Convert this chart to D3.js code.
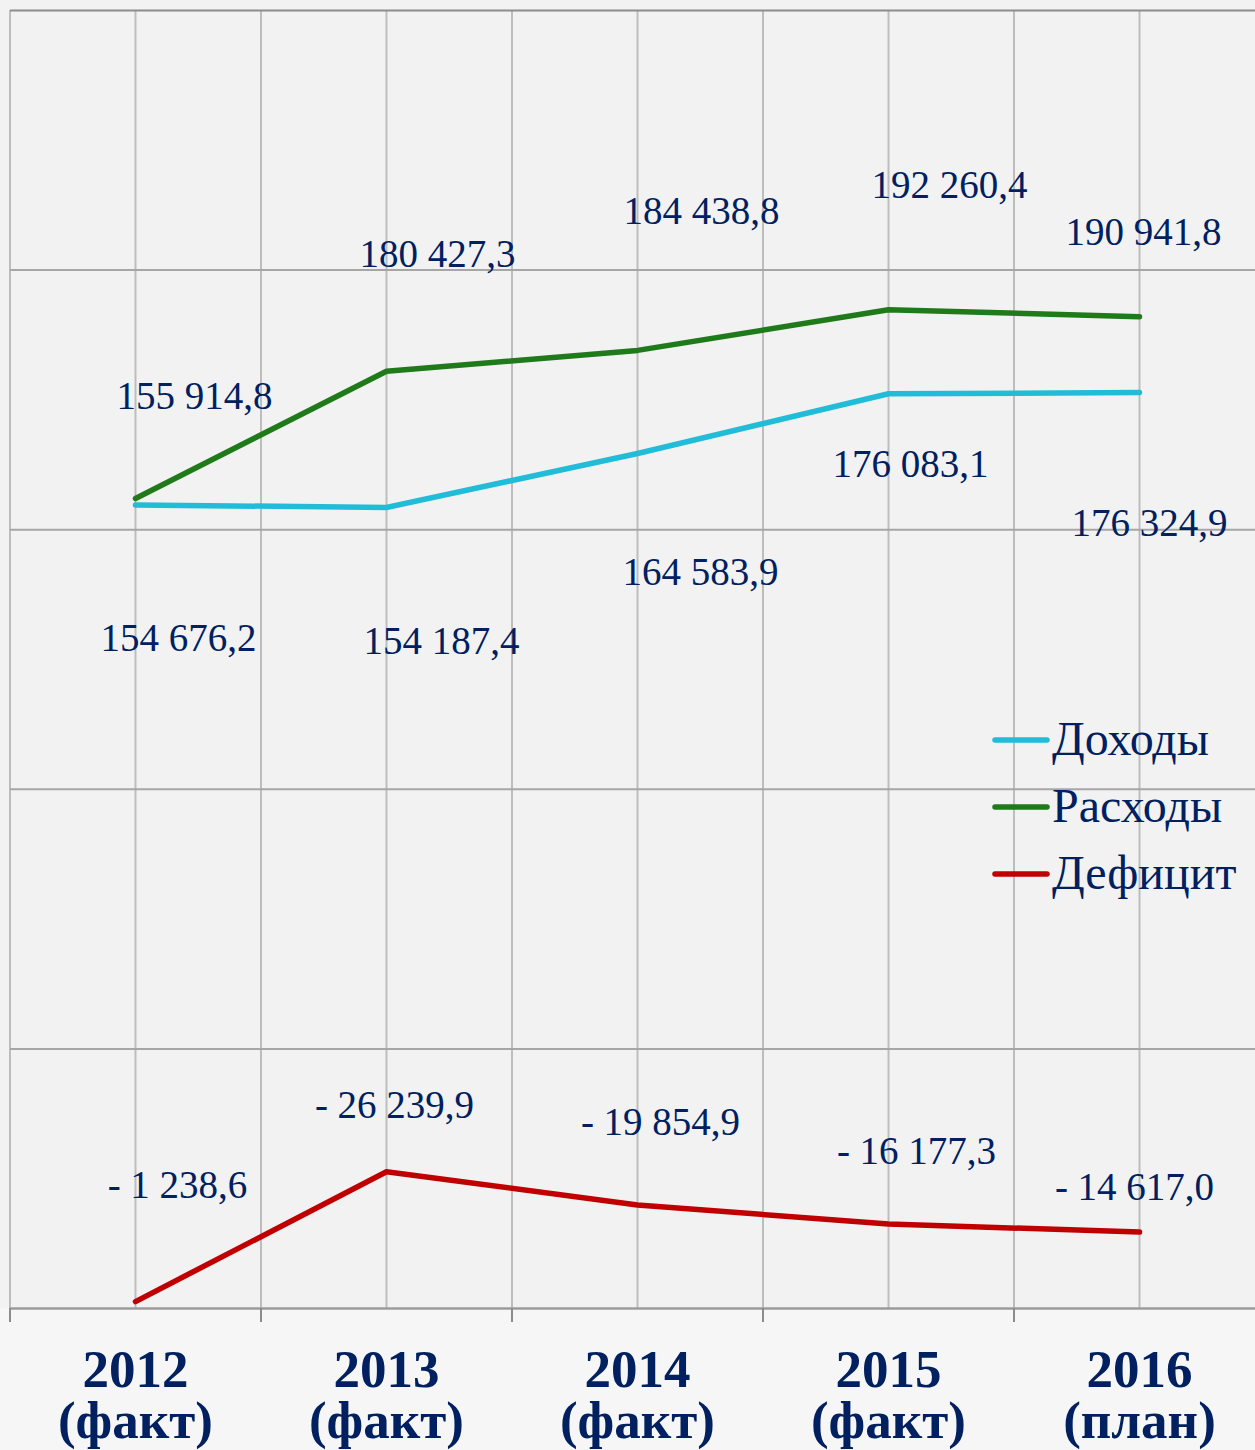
<!DOCTYPE html>
<html>
<head>
<meta charset="utf-8">
<script src="https://cdn.jsdelivr.net/npm/d3@7"></script>
<style>
  body { margin: 0; background: #f2f2f2; }
  svg { display: block; }
</style>
</head>
<body>
<svg id="chart" width="1255" height="1450"></svg>
<script>
// data
const years = ["2012", "2013", "2014", "2015", "2016"];
const yearNotes = ["(факт)", "(факт)", "(факт)", "(факт)", "(план)"];
const revenue = [154676.2, 154187.4, 164583.9, 176083.1, 176324.9];
const expenses = [155914.8, 180427.3, 184438.8, 192260.4, 190941.8];
const deficit = [-1238.6, -26239.9, -19854.9, -16177.3, -14617.0];
const seriesNames = ["Доходы", "Расходы", "Дефицит"];
const yTicks = [0, 50000, 100000, 150000, 200000, 250000];

// label nudges (px) — excel had them dragged by hand
const revOff = [[43, 146], [55, 147], [63, 132], [22, 83], [10, 143]];
const expOff = [[59, -89], [51, -104], [64, -126], [61, -112], [4, -72]];
const defOff = [[42, -104], [8, -54], [23, -70], [28, -60], [-5, -32]];

const colors = ["#21bcd8", "#1f7a1a", "#c00000"];
const navy = "#002060";

const svg = d3.select("#chart");
const margins = {top: 10, left: 10, bottom: 142};
const plotRight = 1265;
const chartHeight = 1450 - margins.top - margins.bottom;

const x = d3.scaleBand().domain(years).range([margins.left, plotRight]);
const y = d3.scaleLinear().domain([0, 250000]).range([margins.top + chartHeight, margins.top]);
const cx = d => x(d) + x.bandwidth() / 2;

// background below the axis a bit lighter
svg.append("rect").attr("x", 0).attr("y", y(0)).attr("width", 1255).attr("height", 1450 - y(0))
   .attr("fill", "#f6f6f6");
svg.append("rect").attr("x", margins.left).attr("y", margins.top)
   .attr("width", plotRight - margins.left).attr("height", chartHeight).attr("fill", "#f2f2f2");

// vertical gridlines (band edges + centers)
let vx = [];
years.forEach(d => { vx.push(x(d)); vx.push(cx(d)); });
svg.append("g").selectAll("line").data(vx).join("line")
   .attr("x1", d => d).attr("x2", d => d)
   .attr("y1", y(250000)).attr("y2", y(0))
   .attr("stroke", "#bdbdbd").attr("stroke-width", 2);

// horizontal gridlines
const leftGrid = d3.axisLeft(y).tickValues(yTicks).tickSize(-(plotRight - margins.left)).tickFormat("");
const gg = svg.append("g").attr("transform", `translate(${margins.left},0)`).call(leftGrid);
gg.select(".domain").remove();
gg.selectAll("line").attr("stroke", "#a6a6a6").attr("stroke-width", 2);
gg.selectAll(".tick").filter(d => d === 250000).select("line").attr("stroke", "#8c8c8c");

// x axis with tick marks on band edges
const bottomAxis = d3.axisBottom(x).tickSize(0).tickFormat("");
const xa = svg.append("g").attr("transform", `translate(0,${y(0)})`).call(bottomAxis);
xa.select(".domain").attr("stroke", "#999").attr("stroke-width", 2);
svg.append("g").selectAll("line").data(years).join("line")
   .attr("x1", d => x(d)).attr("x2", d => x(d))
   .attr("y1", y(0)).attr("y2", y(0) + 14)
   .attr("stroke", "#8c8c8c").attr("stroke-width", 2);

// category labels
const cat = svg.append("g").attr("font-family", "'Liberation Serif', serif")
   .attr("font-weight", "bold").attr("font-size", 53).attr("fill", navy).attr("text-anchor", "middle");
cat.selectAll("text.yr").data(years).join("text").attr("class", "yr")
   .attr("x", d => cx(d)).attr("y", 1387).text(d => d);
cat.selectAll("text.nt").data(years).join("text").attr("class", "nt")
   .attr("x", d => cx(d)).attr("y", 1438).text((d, i) => yearNotes[i]);

// lines
const fmt = v => d3.format(",.1f")(v).replace(/,/g, " ").replace(".", ",");
const series = [
  {vals: revenue, off: revOff, label: v => fmt(v)},
  {vals: expenses, off: expOff, label: v => fmt(v)},
  {vals: deficit.map(Math.abs), off: defOff, label: v => "- " + fmt(v)}
];
const line = d3.line().x((d, i) => cx(years[i])).y(d => y(d));

series.forEach((s, k) => {
  svg.append("path").datum(s.vals).attr("d", line)
     .attr("fill", "none").attr("stroke", colors[k]).attr("stroke-width", 5.5)
     .attr("stroke-linejoin", "round").attr("stroke-linecap", "round");
  svg.append("g").selectAll("text").data(s.vals).join("text")
     .attr("x", (d, i) => cx(years[i]) + s.off[i][0])
     .attr("y", (d, i) => y(d) + s.off[i][1])
     .attr("text-anchor", "middle")
     .attr("font-family", "'Liberation Serif', serif").attr("font-size", 39)
     .attr("fill", navy)
     .text(d => s.label(d));
});

// legend
const lg = svg.append("g").attr("transform", "translate(995,740)");
seriesNames.forEach((n, i) => {
  const row = lg.append("g").attr("transform", `translate(0,${i * 67})`);
  row.append("line").attr("x1", 0).attr("x2", 52).attr("stroke", colors[i])
     .attr("stroke-width", 5.5).attr("stroke-linecap", "round");
  row.append("text").attr("x", 57).attr("y", 15)
     .attr("font-family", "'Liberation Serif', serif").attr("font-size", 48)
     .attr("fill", navy).text(n);
});
</script>
</body>
</html>
